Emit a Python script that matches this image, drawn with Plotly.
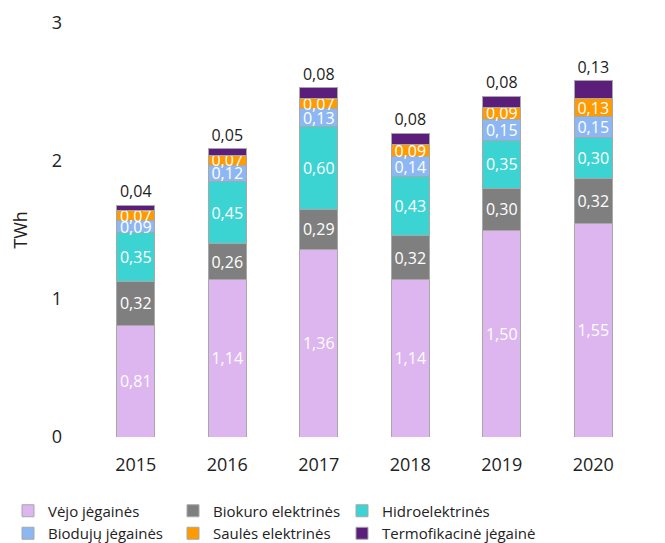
import plotly.graph_objects as go

years = ["2015", "2016", "2017", "2018", "2019", "2020"]
vejo = [0.81, 1.14, 1.36, 1.14, 1.50, 1.55]
biokuro = [0.32, 0.26, 0.29, 0.32, 0.30, 0.32]
hidro = [0.35, 0.45, 0.60, 0.43, 0.35, 0.30]
biodujos = [0.09, 0.12, 0.13, 0.14, 0.15, 0.15]
saules = [0.07, 0.07, 0.07, 0.09, 0.09, 0.13]
termo = [0.04, 0.05, 0.08, 0.08, 0.08, 0.13]

series = [
    ("Vėjo jėgainės", vejo, "#DDB5EF", "white", "inside", "legend"),
    ("Biokuro elektrinės", biokuro, "#7F7F7F", "white", "inside", "legend2"),
    ("Hidroelektrinės", hidro, "#3CD3D3", "white", "inside", "legend3"),
    ("Biodujų jėgainės", biodujos, "#8DB7F2", "white", "inside", "legend"),
    ("Saulės elektrinės", saules, "#FF9A00", "white", "inside", "legend2"),
    ("Termofikacinė jėgainė", termo, "#5B1F7B", "#222222", "outside", "legend3"),
]

def fmt(v):
    return f"{v:.2f}".replace(".", ",")

fig = go.Figure()
for name, vals, color, tcol, tpos, leg in series:
    fig.add_trace(go.Bar(
        x=years, y=vals, name=name, legend=leg,
        marker=dict(color=color, line=dict(color="#A8A8A8", width=1)),
        text=[fmt(v) for v in vals],
        textposition=tpos,
        textangle=0,
        insidetextanchor="middle",
        textfont=dict(color=tcol, size=16, family="Open Sans"),
        constraintext="none",
        cliponaxis=False,
    ))

# page body adds an 8px offset, so the figure is 8px smaller than the window
FW, FH = 657, 535
L, R, T, B = 82, 26, 15, 106
W, H = FW - L - R, FH - T - B
leg_common = dict(yanchor="top", xanchor="left", y=-(486.5 - (FH - B)) / H,
                  font=dict(size=15), itemwidth=30,
                  traceorder="normal", bgcolor="rgba(0,0,0,0)")

fig.update_layout(
    barmode="stack",
    bargap=0.585,
    width=FW, height=FH,
    margin=dict(l=L, r=R, t=T, b=B, autoexpand=False),
    plot_bgcolor="white", paper_bgcolor="white",
    font=dict(family="Open Sans", color="#222222", size=18),
    uniformtext=dict(minsize=16, mode="show"),
    xaxis=dict(showgrid=False, showline=False, ticks="", tickfont=dict(size=18),
               automargin=False, ticklabelstandoff=15),
    yaxis=dict(range=[0, 3], dtick=1, showgrid=False, zeroline=False, showline=False,
               tickfont=dict(size=18), ticklabelstandoff=27, automargin=False,
               title=dict(text="TWh", font=dict(size=18), standoff=23)),
    legend=dict(x=(0 - L) / W, **leg_common),
    legend2=dict(x=(165 - L) / W, **leg_common),
    legend3=dict(x=(334 - L) / W, **leg_common),
    showlegend=True,
)

fig.write_html("out.html")
